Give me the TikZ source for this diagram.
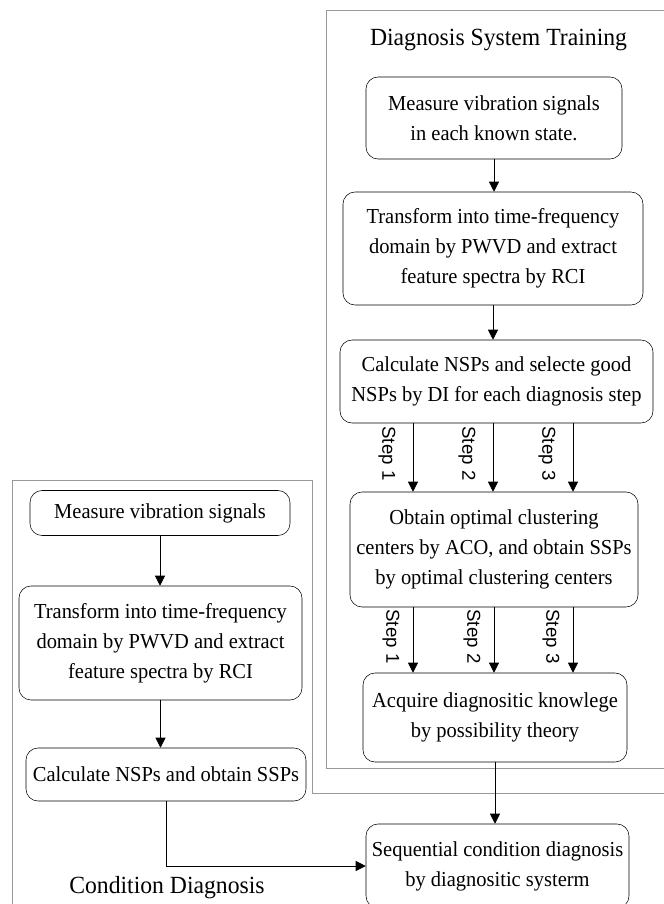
\documentclass[tikz,border=0pt]{standalone}
\usepackage{fontspec}
\setmainfont{Liberation Serif}[FakeStretch=0.96]
\newfontfamily\steplabelfont{Liberation Sans}
\usetikzlibrary{arrows.meta}

\begin{document}
\begin{tikzpicture}[x=0.75pt,y=-0.75pt,
	box/.style={draw, rounded corners=9pt, align=center, inner sep=0pt, font=\fontsize{16}{22.5}\selectfont},
	title/.style={font=\fontsize{18.5}{22}\selectfont},
	frame/.style={draw=black!40, line width=0.6pt},
	arr/.style={-{Triangle[width=7.5pt,length=7.5pt]}, line width=0.6pt},
	steplbl/.style={rotate=-90, font=\steplabelfont\fontsize{14}{16}\selectfont}]
	\useasboundingbox (0,0) rectangle (664,904);
	% frames
	\draw[frame] (326,10) rectangle (670,768);
	\draw[frame] (12,910) -- (12,480) -- (312,480) -- (312,793) -- (670,793);
	\node[title] (ttrain) at (498.5,40) {Diagnosis System Training};
	\node[title] (tcond) at (167,888) {Condition Diagnosis};
	% training
	\node[box, minimum width=192pt, minimum height=61.5pt] (T1) at (494,118)
		{Measure vibration signals\\ in each known state.};
	\node[box, minimum width=225pt, minimum height=84.75pt] (T2) at (493,248.5)
		{Transform into time-frequency\\ domain by PWVD and extract\\ feature spectra by RCI};
	\node[box, minimum width=234.75pt, minimum height=62.25pt] (T3) at (496.5,381.5)
		{Calculate NSPs and selecte good\\ NSPs by DI for each diagnosis step};
	\node[box, minimum width=216pt, minimum height=86.25pt] (T4) at (494,549.5)
		{Obtain optimal clustering\\ centers by ACO, and obtain SSPs\\ by optimal clustering centers};
	\node[box, minimum width=198pt, minimum height=66.75pt] (T5) at (495,717.5)
		{Acquire diagnositic knowlege\\ by possibility theory};
	\node[box, minimum width=197.25pt, minimum height=63pt] (T6) at (497.5,866)
		{Sequential condition diagnosis\\ by diagnositic systerm};
	\draw[arr] (T1.south) -- (T1.south |- T2.north);
	\draw[arr] (T2.south) -- (T2.south |- T3.north);
	\foreach \i/\x in {1/413, 2/493, 3/573} {
		\coordinate (up\i) at (\x,0);
		\draw[arr] (up\i |- T3.south) -- (up\i |- T4.north);
		\node[steplbl] (ul\i) at (\x-26,453.5) {Step \i};
	}
	\foreach \i/\x in {1/413, 2/494, 3/573} {
		\coordinate (lo\i) at (\x,0);
		\draw[arr] (lo\i |- T4.south) -- (lo\i |- T5.north);
		\node[steplbl] (ll\i) at (\x-22,636.5) {Step \i};
	}
	\draw[arr] (T5.south) -- (T5.south |- T6.north);
	% condition diagnosis
	\node[box, minimum width=195pt, minimum height=33.75pt] (C1) at (160,513)
		{Measure vibration signals};
	\node[box, minimum width=212.25pt, minimum height=85.5pt] (C2) at (160.5,643)
		{Transform into time-frequency\\ domain by PWVD and extract\\ feature spectra by RCI};
	\node[box, minimum width=210pt, minimum height=39.75pt] (C3) at (166,774.5)
		{Calculate NSPs and obtain SSPs};
	\draw[arr] (C1.south) -- (C1.south |- C2.north);
	\draw[arr] (C2.south) -- (C2.south |- C3.north);
	\draw[arr] (C3.south) |- (T6.west);
\end{tikzpicture}
\end{document}
